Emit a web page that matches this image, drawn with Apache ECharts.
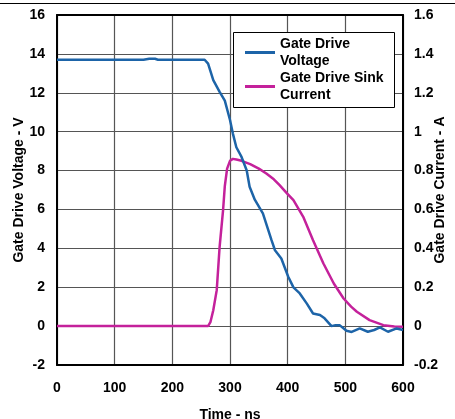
<!DOCTYPE html>
<html>
<head>
<meta charset="utf-8">
<script src="https://cdn.jsdelivr.net/npm/echarts@6/dist/echarts.min.js"></script>
<style>
html,body{margin:0;padding:0;background:#fff;}
#chart{width:455px;height:419px;}
</style>
</head>
<body>
<div id="chart"></div>
<script>
// Time axis ticks (ns)
const timeTicks = [0, 100, 200, 300, 400, 500, 600];
const voltageTicks = [-2, 0, 2, 4, 6, 8, 10, 12, 14, 16];
const currentTicks = [-0.2, 0, 0.2, 0.4, 0.6, 0.8, 1, 1.2, 1.4, 1.6];

// Gate Drive Voltage (V)
const voltageTime = [0, 100, 150, 160, 170, 175, 256, 262, 271, 282, 291, 300, 305, 311, 320, 329, 334, 343, 357, 372, 378, 389, 401, 410, 421, 433, 444, 456, 464, 476, 483, 490, 502, 511, 525, 539, 550, 560, 574, 589, 600];
const voltageValues = [13.7, 13.7, 13.7, 13.75, 13.75, 13.7, 13.7, 13.5, 12.65, 12.05, 11.6, 10.6, 9.9, 9.2, 8.7, 8.0, 7.17, 6.5, 5.8, 4.42, 3.9, 3.48, 2.54, 1.99, 1.68, 1.17, 0.65, 0.57, 0.40, 0.0, 0.05, 0.05, -0.24, -0.3, -0.12, -0.29, -0.2, -0.07, -0.29, -0.12, -0.2];

// Gate Drive Sink Current (A)
const currentTime = [0, 262, 266, 271, 277, 282, 288, 291, 295, 300, 305, 311, 320, 335, 350, 363, 376, 386, 398, 410, 427, 444, 462, 480, 497, 510, 520, 542, 566, 585, 600];
const currentValues = [0, 0, 0.02, 0.082, 0.185, 0.408, 0.597, 0.72, 0.81, 0.85, 0.86, 0.857, 0.85, 0.833, 0.81, 0.785, 0.755, 0.725, 0.685, 0.648, 0.562, 0.442, 0.322, 0.219, 0.142, 0.1, 0.074, 0.031, 0.005, -0.002, -0.003];

const seriesNames = ['Gate Drive Voltage', 'Gate Drive Sink Current'];
const legendLabels = {'Gate Drive Voltage': 'Gate Drive\nVoltage', 'Gate Drive Sink Current': 'Gate Drive Sink\nCurrent'};

const FONT = 'Liberation Sans, Arial, sans-serif';
const voltageData = voltageTime.map((t, i) => [t, voltageValues[i]]);
const currentData = currentTime.map((t, i) => [t, currentValues[i]]);

const chart = echarts.init(document.getElementById('chart'), null, {renderer: 'canvas'});
const labelStyle = {color: '#000', fontFamily: FONT, fontWeight: 'bold', fontSize: 14};
const gridLine = () => ({show: true, lineStyle: {color: '#555', width: 1.2}});

chart.setOption({
  animation: false,
  backgroundColor: '#fff',
  grid: {left: 57, right: 52, top: 15, bottom: 54, outerBoundsMode: 'none'},
  graphic: [
    {type: 'line', shape: {x1: 0, y1: 3.5, x2: 455, y2: 3.5}, style: {stroke: '#000', lineWidth: 1}, z: 10},
    {type: 'rect', shape: {x: 233.5, y: 32.5, width: 161, height: 75}, style: {fill: '#fff', stroke: '#000', lineWidth: 1}, z: 50}
  ],
  legend: {
    data: seriesNames,
    orient: 'vertical',
    left: 245, top: 27,
    padding: 0,
    itemGap: -17,
    icon: 'rect',
    itemWidth: 30, itemHeight: 3,
    z: 60,
    formatter: name => legendLabels[name],
    textStyle: {color: '#000', fontFamily: FONT, fontWeight: 'bold', fontSize: 14, lineHeight: 17, padding: [17, 0, 0, 0]}
  },
  xAxis: [
    {
      type: 'value', position: 'bottom', min: timeTicks[0], max: timeTicks[timeTicks.length - 1], interval: 100,
      name: 'Time - ns', nameLocation: 'middle', nameGap: 43, nameMoveOverlap: false,
      nameTextStyle: labelStyle,
      axisLine: {show: true, onZero: false, lineStyle: {color: '#000', width: 2}},
      axisTick: {show: true, length: 0},
      axisLabel: Object.assign({margin: 16}, labelStyle),
      splitLine: gridLine()
    },
    {
      type: 'value', position: 'top', min: timeTicks[0], max: timeTicks[timeTicks.length - 1], interval: 100,
      axisLine: {show: true, onZero: false, lineStyle: {color: '#000', width: 2}},
      axisTick: {show: false},
      axisLabel: {show: false},
      splitLine: {show: false}
    }
  ],
  yAxis: [
    {
      type: 'value', min: voltageTicks[0], max: voltageTicks[voltageTicks.length - 1], interval: 2,
      name: 'Gate Drive Voltage - V', nameLocation: 'middle', nameGap: 31, nameRotate: 90, nameMoveOverlap: false,
      nameTextStyle: labelStyle,
      axisLine: {show: true, onZero: false, lineStyle: {color: '#000', width: 2}},
      axisTick: {show: true, length: 0},
      axisLabel: Object.assign({margin: 12}, labelStyle),
      splitLine: gridLine()
    },
    {
      type: 'value', position: 'right', min: currentTicks[0], max: currentTicks[currentTicks.length - 1], interval: 0.2,
      name: 'Gate Drive Current - A', nameLocation: 'middle', nameGap: 30, nameRotate: 90, nameMoveOverlap: false,
      nameTextStyle: labelStyle,
      axisLine: {show: true, onZero: false, lineStyle: {color: '#000', width: 2}},
      axisTick: {show: false},
      axisLabel: Object.assign({margin: 11, formatter: v => String(Math.round(v * 10) / 10)}, labelStyle),
      splitLine: {show: false}
    }
  ],
  series: [
    {
      name: seriesNames[0], type: 'line', xAxisIndex: 0, yAxisIndex: 0, data: voltageData,
      showSymbol: false, symbol: 'none', smooth: false,
      itemStyle: {color: '#1d64a8'},
      lineStyle: {color: '#1d64a8', width: 2.5}, z: 3
    },
    {
      name: seriesNames[1], type: 'line', xAxisIndex: 0, yAxisIndex: 1, data: currentData,
      showSymbol: false, symbol: 'none', smooth: false,
      itemStyle: {color: '#c4219b'},
      lineStyle: {color: '#c4219b', width: 2.5}, z: 2
    }
  ]
});
</script>
</body>
</html>
